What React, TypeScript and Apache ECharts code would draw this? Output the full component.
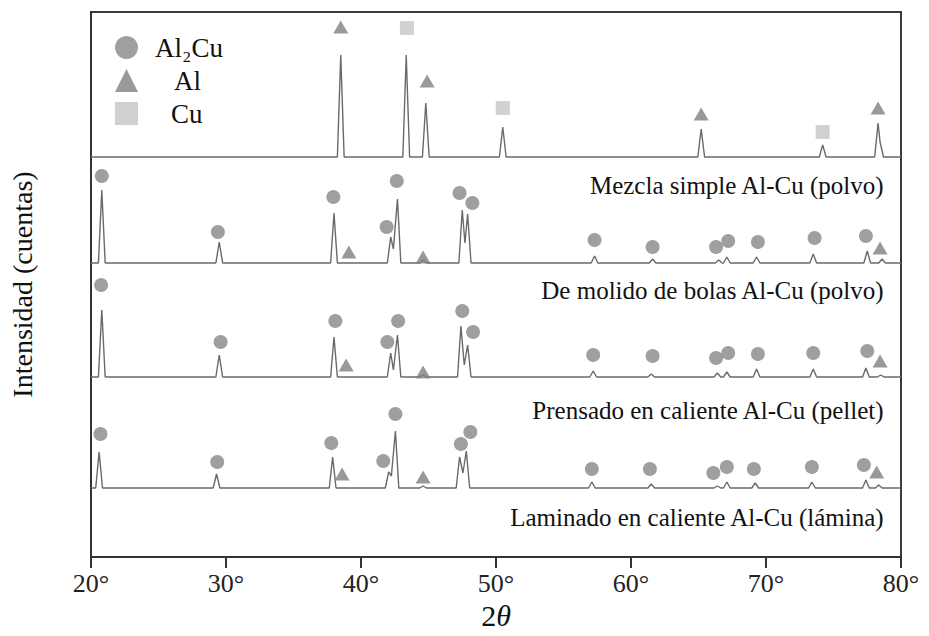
import React, { useEffect, useRef } from "react";
import * as echarts from "echarts";

// ---- data (arbitrary intensity units) ----
const xTickValues = [20, 30, 40, 50, 60, 70, 80];
const sampleNames = [
  "Mezcla simple Al-Cu (polvo)",
  "De molido de bolas Al-Cu (polvo)",
  "Prensado en caliente Al-Cu (pellet)",
  "Laminado en caliente Al-Cu (lámina)",
];
const sampleOffsets = [400, 294, 180, 69];

// [2θ, intensity above the trace's own baseline]
const mezclaPeaks = [
  [38.5, 102], [43.35, 102], [44.8, 54], [50.5, 30], [65.2, 28], [74.2, 12], [78.3, 34], [78.45, 15],
];
const molidoPeaks = [
  [20.8, 73], [29.5, 21], [38.0, 50], [42.2, 26], [42.4, 14], [42.7, 64], [44.6, 3],
  [47.5, 53], [47.7, 20], [47.9, 49], [57.3, 7], [61.6, 4], [66.5, 3], [67.1, 6],
  [69.3, 6], [73.5, 9], [77.5, 12], [78.6, 4],
];
const prensadoPeaks = [
  [20.8, 67], [29.5, 22], [38.0, 40], [42.2, 24], [42.4, 7], [42.7, 42], [44.6, 2],
  [47.4, 51], [47.65, 12], [47.9, 32], [57.2, 6], [61.5, 3], [66.4, 4], [67.1, 5],
  [69.3, 8], [73.5, 8], [77.4, 9], [78.5, 2],
];
const laminadoPeaks = [
  [20.6, 36], [29.3, 14], [37.9, 31], [42.05, 16], [42.25, 12], [42.55, 57], [44.6, 2],
  [47.3, 31], [47.55, 15], [47.8, 37], [57.1, 6], [61.5, 4], [66.4, 2], [67.1, 6],
  [69.2, 5], [73.4, 6], [77.4, 8], [78.35, 3],
];

// phase markers [2θ, intensity]
const al2cuMarks = [
  [20.8, 381], [29.4, 325], [37.95, 360], [41.9, 330], [42.65, 376], [47.3, 364], [48.25, 354],
  [57.3, 317], [61.6, 310], [66.3, 310], [67.2, 316], [69.4, 315], [73.6, 319], [77.4, 321],
  [20.75, 272], [29.6, 215], [38.1, 236], [41.95, 215], [42.75, 236], [47.5, 246], [48.3, 225],
  [57.2, 202], [61.6, 201], [66.3, 199], [67.2, 204], [69.4, 203], [73.5, 204], [77.5, 206],
  [20.7, 123], [29.35, 95], [37.8, 114], [41.65, 96], [42.55, 143], [47.4, 113], [48.1, 125],
  [57.1, 88], [61.4, 88], [66.1, 84], [67.1, 90], [69.1, 88], [73.4, 90], [77.25, 92],
];
const alMarks = [
  [38.5, 530], [44.9, 476], [65.2, 443], [78.3, 449],
  [39.1, 305], [44.6, 300], [78.45, 309],
  [38.9, 192], [44.6, 185], [78.45, 196],
  [38.6, 83], [44.6, 80], [78.2, 85],
];
const cuMarks = [[43.4, 529], [50.5, 449], [74.2, 425]];

const allPeaks = [mezclaPeaks, molidoPeaks, prensadoPeaks, laminadoPeaks];

// ---- build line vertices from the read peaks ----
const HALF = 0.25;
function buildTrace(base: number, peaks: number[][]) {
  const pts: number[][] = [[20, base]];
  let prev: number | null = null;
  for (const [x, h] of peaks) {
    if (prev === null || x - prev > 2 * HALF + 0.02) {
      if (prev !== null) pts.push([prev + HALF, base]);
      pts.push([x - HALF, base]);
    }
    pts.push([x, base + h]);
    prev = x;
  }
  if (prev !== null) pts.push([prev + HALF, base]);
  pts.push([80, base]);
  return pts;
}

const SERIF = '"Liberation Serif", "Times New Roman", serif';
const labelCenters = [187, 292, 412, 519];

export default function App() {
  const ref = useRef<HTMLDivElement>(null);
  useEffect(() => {
    if (!ref.current) return;
    const chart = echarts.init(ref.current, null, { renderer: "svg" });
    const lineSeries = allPeaks.map((p, i) => ({
      type: "line",
      name: sampleNames[i],
      data: buildTrace(sampleOffsets[i], p),
      showSymbol: false,
      symbol: "none",
      lineStyle: { color: "#6a6a6a", width: 1.4 },
      z: 2,
      silent: true,
    }));
    chart.setOption({
      animation: false,
      backgroundColor: "#ffffff",
      grid: { left: 91, right: 28, top: 12, bottom: 79, show: true, borderColor: "#3a3a3a", borderWidth: 2 },
      legend: {
        left: 110,
        top: 29,
        orient: "vertical",
        itemWidth: 23,
        itemHeight: 23,
        itemGap: 6,
        selectedMode: false,
        data: [
          { name: "Al₂Cu", icon: "circle" },
          { name: "Al", icon: "triangle" },
          { name: "Cu", icon: "rect" },
        ],
        formatter: (n: string) =>
          n === "Al₂Cu" ? "{g1|}{a|Al₂Cu}" : n === "Al" ? "{g2|}{a|Al}" : "{g3|}{a|Cu}",
        textStyle: {
          fontFamily: SERIF,
          fontSize: 27,
          color: "#111",
          rich: {
            g1: { width: 12 },
            g2: { width: 31 },
            g3: { width: 28 },
            a: { fontFamily: SERIF, fontSize: 27, color: "#111", lineHeight: 28 },
          },
        },
      },
      xAxis: {
        type: "value",
        min: xTickValues[0],
        max: xTickValues[xTickValues.length - 1],
        interval: 10,
        name: "{n|2}{t|θ}",
        nameLocation: "middle",
        nameGap: 40,
        nameTextStyle: {
          rich: {
            n: { fontFamily: SERIF, fontSize: 30, color: "#111" },
            t: { fontFamily: SERIF, fontSize: 30, fontStyle: "italic", color: "#111" },
          },
        },
        axisLine: { show: true, lineStyle: { color: "#333", width: 2 } },
        axisTick: { show: true, length: 11, lineStyle: { color: "#333", width: 2 } },
        axisLabel: { formatter: "{value}°", fontFamily: SERIF, fontSize: 26, color: "#222", margin: 13 },
        splitLine: { show: false },
      },
      yAxis: {
        type: "value",
        min: 0,
        max: 545,
        name: "Intensidad (cuentas)",
        nameLocation: "middle",
        nameGap: 55,
        nameTextStyle: { fontFamily: SERIF, fontSize: 28, color: "#111" },
        axisLine: { show: true, lineStyle: { color: "#333", width: 2 } },
        axisTick: { show: false },
        axisLabel: { show: false },
        splitLine: { show: false },
      },
      graphic: sampleNames.map((t, i) => ({
        type: "text",
        right: 44,
        top: labelCenters[i] - 14,
        style: { text: t, font: `25px ${SERIF}`, fill: "#111" },
        silent: true,
      })),
      series: [
        ...lineSeries,
        {
          type: "scatter", name: "Al₂Cu", data: al2cuMarks, symbol: "circle", symbolSize: 14,
          itemStyle: { color: "#878787" }, z: 3,
        },
        {
          type: "scatter", name: "Al", data: alMarks, symbol: "triangle", symbolSize: [15, 13],
          itemStyle: { color: "#7f7f7f" }, z: 3,
        },
        {
          type: "scatter", name: "Cu", data: cuMarks, symbol: "rect", symbolSize: 14,
          itemStyle: { color: "#c6c6c6" }, z: 3,
        },
      ],
    });
    return () => chart.dispose();
  }, []);
  return <div ref={ref} style={{ position: "fixed", left: 0, top: 0, width: 929, height: 636 }} />;
}
